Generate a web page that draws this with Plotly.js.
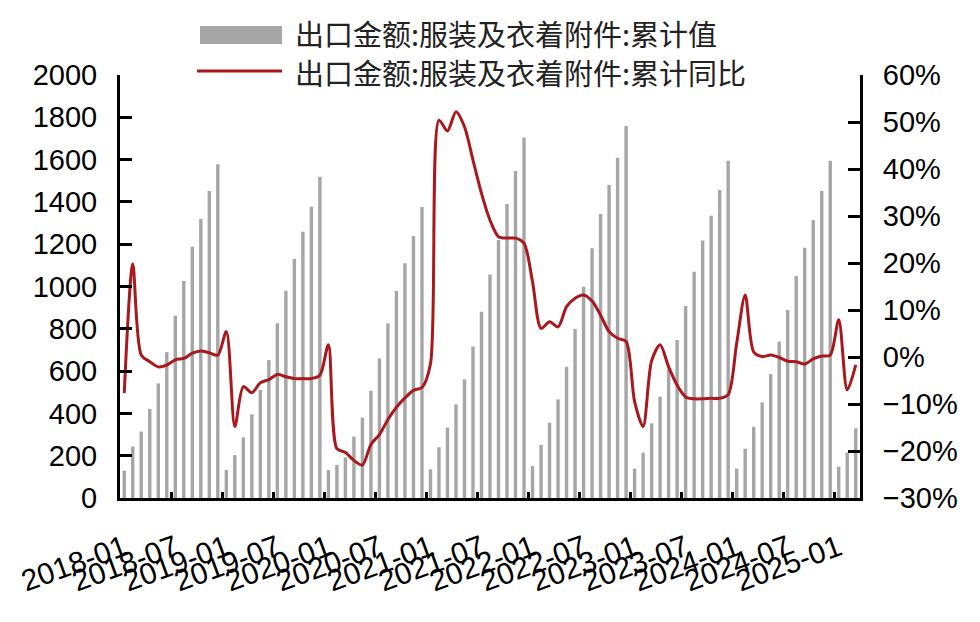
<!DOCTYPE html>
<html>
<head>
<meta charset="utf-8">
<script src="https://cdn.plot.ly/plotly-3.0.1.min.js"></script>
<style>
  html, body { margin: 0; padding: 0; background: #fff; }
  #chart { width: 980px; height: 622px; }
</style>
</head>
<body>
<div id="chart"></div>
<script>
// monthly cumulative export value (亿美元), one array per year
const years = [2018, 2019, 2020, 2021, 2022, 2023, 2024, 2025]
const value2018 = [129, 243, 314, 421, 542, 690, 862, 1027, 1188, 1319, 1451, 1578]
const value2019 = [132, 203, 287, 396, 511, 652, 826, 980, 1130, 1259, 1377, 1519]
const value2020 = [132, 156, 192, 290, 380, 507, 660, 826, 979, 1110, 1239, 1376]
const value2021 = [136, 240, 333, 443, 561, 716, 881, 1057, 1220, 1390, 1546, 1705]
const value2022 = [151, 251, 356, 466, 621, 799, 999, 1181, 1343, 1480, 1609, 1759]
const value2023 = [139, 214, 353, 479, 610, 747, 908, 1070, 1217, 1335, 1456, 1595]
const value2024 = [139, 233, 337, 452, 586, 739, 889, 1050, 1183, 1314, 1451, 1595]
const value2025 = [148, 214, 330]

// cumulative YoY (%)
const yoy2018 = [-7.7, 19.8, 0.4, -1.0, -2.1, -1.7, -0.6, -0.3, 0.8, 1.3, 0.9, 0.4]
const yoy2019 = [5.4, -14.8, -6.3, -7.6, -5.5, -4.8, -3.7, -4.2, -4.6, -4.6, -4.6, -3.9]
const yoy2020 = [2.6, -19.5, -20.3, -22.0, -23.0, -18.6, -16.5, -13.3, -10.7, -8.7, -7.1, -6.5]
const yoy2021 = [-1.5, 50.4, 48.1, 52.2, 49.0, 41.9, 34.8, 29.1, 25.6, 25.3, 25.3, 24.2]
const yoy2022 = [16.0, 6.1, 7.5, 6.4, 10.7, 12.5, 13.2, 11.9, 8.9, 5.4, 4.0, 3.3]
const yoy2023 = [-9.5, -14.8, -0.8, 2.6, -2.1, -6.0, -8.5, -8.9, -8.9, -8.8, -8.8, -8.0]
const yoy2024 = [2.9, 13.2, 1.1, 0.1, 0.4, -0.1, -0.9, -1.0, -1.5, -0.4, 0.2, 0.4]
const yoy2025 = [7.9, -7.0, -1.7]

const seriesNames = ['出口金额:服装及衣着附件:累计值', '出口金额:服装及衣着附件:累计同比']

const values = [].concat(value2018, value2019, value2020, value2021, value2022, value2023, value2024, value2025)
const yoy = [].concat(yoy2018, yoy2019, yoy2020, yoy2021, yoy2022, yoy2023, yoy2024, yoy2025)

// category labels YYYY-MM
const months = []
years.forEach(y => {
  for (let m = 1; m <= 12; m++) {
    if (months.length < values.length) months.push(y + '-' + String(m).padStart(2, '0'))
  }
})

const barColor = '#a6a6a6'
const lineColor = '#a8181d'

const traces = [
  {
    x: months,
    y: values,
    type: 'bar',
    name: seriesNames[0],
    marker: { color: barColor },
    yaxis: 'y'
  },
  {
    x: months,
    y: yoy,
    type: 'scatter',
    mode: 'lines',
    name: seriesNames[1],
    line: { color: lineColor, width: 3, shape: 'spline', smoothing: 0.8 },
    yaxis: 'y2'
  }
]

// plot box in pixels, used to place the legend in paper units
const W = 980, H = 622
const M = { l: 120, r: 120, t: 75, b: 124 }
const px = x => (x - M.l) / (W - M.l - M.r)
const py = y => (H - M.b - y) / (H - M.t - M.b)

// hand drawn legend: wide swatches like the original
const shapes = [
  { type: 'rect', xref: 'paper', yref: 'paper', x0: px(200), x1: px(282), y0: py(44), y1: py(26),
    fillcolor: barColor, line: { width: 0 } },
  { type: 'line', xref: 'paper', yref: 'paper', x0: px(197), x1: px(282), y0: py(71), y1: py(71),
    line: { color: lineColor, width: 3 } }
]
const legendFont = { family: 'Noto Sans CJK SC, sans-serif', size: 29, color: '#222' }
const annotations = [
  { xref: 'paper', yref: 'paper', x: px(293), y: py(33), xanchor: 'left', yanchor: 'middle',
    text: seriesNames[0], showarrow: false, font: legendFont },
  { xref: 'paper', yref: 'paper', x: px(293), y: py(72), xanchor: 'left', yanchor: 'middle',
    text: seriesNames[1], showarrow: false, font: legendFont }
]

const tickFont = { family: 'Liberation Sans, Arial, sans-serif', size: 29, color: '#000' }

const layout = {
  width: W,
  height: H,
  margin: { l: M.l, r: M.r, t: M.t, b: M.b, pad: 0 },
  paper_bgcolor: '#fff',
  plot_bgcolor: '#fff',
  bargap: 0.6,
  showlegend: false,
  shapes: shapes,
  annotations: annotations,
  xaxis: {
    type: 'category',
    range: [-0.5, 86.5],
    tickmode: 'linear',
    tick0: 0,
    dtick: 6,
    tickson: 'boundaries',
    tickangle: -20,
    ticks: 'inside',
    ticklen: 6,
    tickwidth: 3,
    tickcolor: '#000',
    showline: true,
    linewidth: 3,
    linecolor: '#000',
    showgrid: false,
    ticklabelstandoff: 18,
    tickfont: { family: 'Liberation Sans, Arial, sans-serif', size: 30, color: '#000' }
  },
  yaxis: {
    range: [0, 2000],
    dtick: 200,
    ticks: 'inside',
    ticklen: 12,
    tickwidth: 3,
    tickcolor: '#000',
    showline: true,
    linewidth: 3,
    linecolor: '#000',
    showgrid: false,
    zeroline: false,
    ticklabelstandoff: 14,
    tickfont: tickFont
  },
  yaxis2: {
    overlaying: 'y',
    side: 'right',
    range: [-30, 60],
    dtick: 10,
    ticksuffix: '%',
    ticks: 'inside',
    ticklen: 12,
    tickwidth: 3,
    tickcolor: '#000',
    showline: true,
    linewidth: 3,
    linecolor: '#000',
    showgrid: false,
    zeroline: false,
    ticklabelstandoff: 14,
    tickfont: tickFont
  }
}

Plotly.newPlot('chart', traces, layout, { displayModeBar: false, staticPlot: true })
</script>
</body>
</html>
